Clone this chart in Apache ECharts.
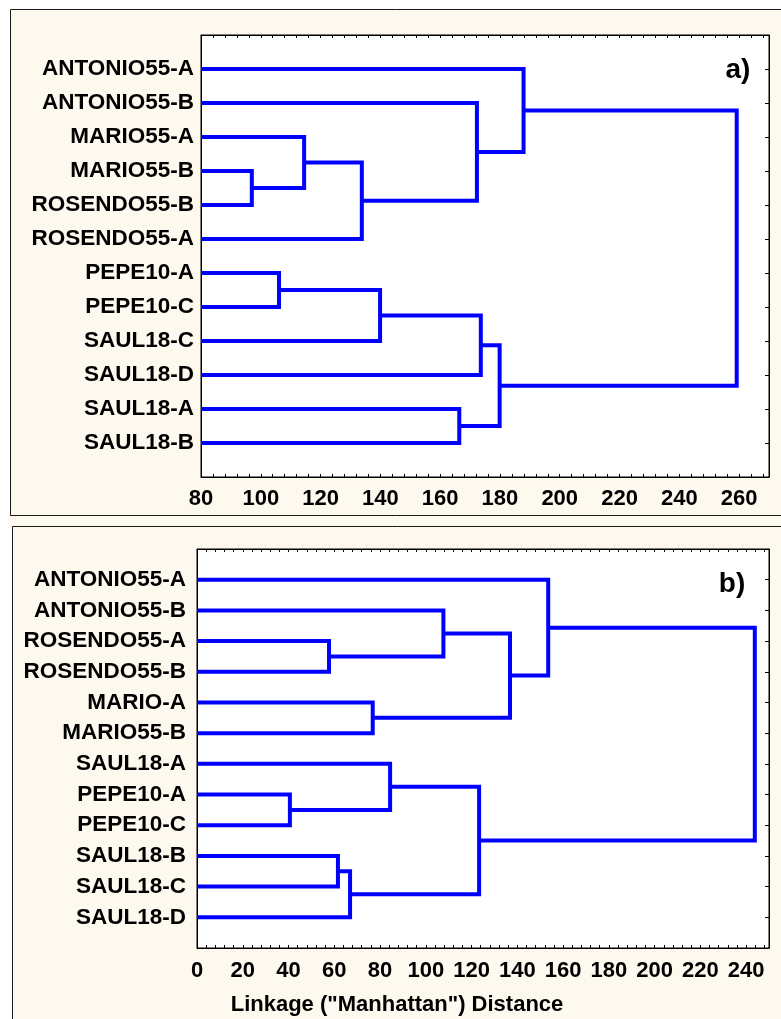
<!DOCTYPE html>
<html>
<head>
<meta charset="utf-8">
<title>Dendrograms</title>
<script src="https://cdn.jsdelivr.net/npm/echarts@6/dist/echarts.min.js"></script>
<style>
  html, body { margin: 0; padding: 0; background: #ffffff; }
  #chart { width: 781px; height: 1019px; }
</style>
</head>
<body>
<div id="chart"></div>
<script>
// Panel a) leaves, top to bottom
const leavesA = ['ANTONIO55-A', 'ANTONIO55-B', 'MARIO55-A', 'MARIO55-B', 'ROSENDO55-B', 'ROSENDO55-A',
                 'PEPE10-A', 'PEPE10-C', 'SAUL18-C', 'SAUL18-D', 'SAUL18-A', 'SAUL18-B'];
// Panel a) merges: [child, child, linkage distance]; ids >= 12 are earlier merges
const linksA = [[3, 4, 97.0], [2, 12, 114.5], [13, 5, 133.8], [1, 14, 172.3], [0, 15, 187.9],
                [6, 7, 106.1], [17, 8, 139.9], [18, 9, 173.6], [10, 11, 166.4], [19, 20, 179.9],
                [16, 21, 259.2]];
const rangeA = [80, 270];

// Panel b) leaves, top to bottom
const leavesB = ['ANTONIO55-A', 'ANTONIO55-B', 'ROSENDO55-A', 'ROSENDO55-B', 'MARIO-A', 'MARIO55-B',
                 'SAUL18-A', 'PEPE10-A', 'PEPE10-C', 'SAUL18-B', 'SAUL18-C', 'SAUL18-D'];
const linksB = [[2, 3, 57.7], [1, 12, 107.7], [4, 5, 76.8], [13, 14, 136.8], [0, 15, 153.5],
                [7, 8, 40.6], [6, 17, 84.4], [9, 10, 61.6], [19, 11, 66.9], [18, 20, 123.3],
                [16, 21, 243.8]];
const rangeB = [0, 250];

const labelStep = 20;   // labelled ticks
const tickStep = 4;     // all tick marks
const axisTitle = 'Linkage ("Manhattan") Distance';
const panelTags = ['a)', 'b)'];

const FONT = '"Liberation Sans", Arial, sans-serif';
const CREAM = '#fdf9ef';
const BLUE = '#0000ff';

// Turn a merge list into elbow polylines: leaf i sits on row i+1
function elbowPaths(leaves, links, base) {
  const n = leaves.length;
  const pos = [], hgt = [];
  for (let i = 0; i < n; i++) { pos.push(i + 1); hgt.push(base); }
  const paths = [];
  links.forEach(([a, b, h]) => {
    paths.push({ coords: [[hgt[a], pos[a]], [h, pos[a]], [h, pos[b]], [hgt[b], pos[b]]] });
    pos.push((pos[a] + pos[b]) / 2);
    hgt.push(h);
  });
  return paths;
}

function xAxes(gi, range, margin) {
  const common = {
    gridIndex: gi, type: 'value', min: range[0], max: range[1], interval: tickStep,
    axisLine: { show: true, onZero: false, lineStyle: { color: '#000', width: 1 } },
    axisTick: { show: true, inside: true, length: 3, lineStyle: { color: '#000', width: 1 } },
    splitLine: { show: false }
  };
  return [
    Object.assign({}, common, {
      position: 'bottom',
      axisLabel: {
        show: true, margin: margin, color: '#000', fontSize: 22, fontWeight: 'bold', fontFamily: FONT,
        formatter: v => (Math.round(v) % labelStep === 0 ? String(Math.round(v)) : '')
      }
    }),
    Object.assign({}, common, { position: 'top', axisLabel: { show: false } })
  ];
}

function yAxes(gi, leaves, margin) {
  const common = {
    gridIndex: gi, type: 'value', min: 0, max: leaves.length + 1, interval: 1, inverse: true,
    axisLine: { show: true, onZero: false, lineStyle: { color: '#000', width: 1 } },
    axisTick: { show: true, inside: true, length: 4, lineStyle: { color: '#000', width: 1 } },
    splitLine: { show: false }
  };
  return [
    Object.assign({}, common, {
      position: 'left',
      axisLabel: {
        show: true, margin: margin, color: '#000', fontSize: 22.5, fontWeight: 'bold', fontFamily: FONT,
        formatter: v => leaves[Math.round(v) - 1] || ''
      }
    }),
    Object.assign({}, common, { position: 'right', axisLabel: { show: false } })
  ];
}

const chart = echarts.init(document.getElementById('chart'), null, { renderer: 'canvas' });

const lineStyle = { color: BLUE, width: 4, opacity: 1, join: 'miter', cap: 'butt' };

chart.setOption({
  backgroundColor: '#ffffff',
  animation: false,
  grid: [
    { left: 201, top: 35, width: 568, height: 442, show: true, backgroundColor: '#ffffff',
      borderColor: '#000', borderWidth: 1, containLabel: false },
    { left: 197, top: 549, width: 572, height: 399, show: true, backgroundColor: '#ffffff',
      borderColor: '#000', borderWidth: 1, containLabel: false }
  ],
  xAxis: [].concat(xAxes(0, rangeA, 11), xAxes(1, rangeB, 12)),
  yAxis: [].concat(yAxes(0, leavesA, 7), yAxes(1, leavesB, 11)),
  series: [
    { type: 'lines', coordinateSystem: 'cartesian2d', xAxisIndex: 0, yAxisIndex: 0,
      polyline: true, silent: true, z: 5, lineStyle: lineStyle,
      data: elbowPaths(leavesA, linksA, rangeA[0]) },
    { type: 'lines', coordinateSystem: 'cartesian2d', xAxisIndex: 2, yAxisIndex: 2,
      polyline: true, silent: true, z: 5, lineStyle: lineStyle,
      data: elbowPaths(leavesB, linksB, rangeB[0]) }
  ],
  graphic: [
    { type: 'rect', z: -30, silent: true,
      shape: { x: 8, y: 514, width: 800, height: 14 }, style: { fill: CREAM } },
    { type: 'rect', z: -20, silent: true,
      shape: { x: 10.5, y: 9.5, width: 800, height: 506 },
      style: { fill: CREAM, stroke: '#1a1a1a', lineWidth: 1 } },
    { type: 'rect', z: -20, silent: true,
      shape: { x: 12.5, y: 526.5, width: 800, height: 600 },
      style: { fill: CREAM, stroke: '#1a1a1a', lineWidth: 1 } },
    { type: 'text', z: 10, silent: true, x: 738, y: 70,
      style: { text: panelTags[0], textAlign: 'center', textVerticalAlign: 'middle',
               font: 'bold 28px ' + FONT, fill: '#000' } },
    { type: 'text', z: 10, silent: true, x: 732, y: 584,
      style: { text: panelTags[1], textAlign: 'center', textVerticalAlign: 'middle',
               font: 'bold 28px ' + FONT, fill: '#000' } },
    { type: 'text', z: 10, silent: true, x: 397, y: 1005,
      style: { text: axisTitle, textAlign: 'center', textVerticalAlign: 'middle',
               font: 'bold 22px ' + FONT, fill: '#000' } }
  ]
});
</script>
</body>
</html>
